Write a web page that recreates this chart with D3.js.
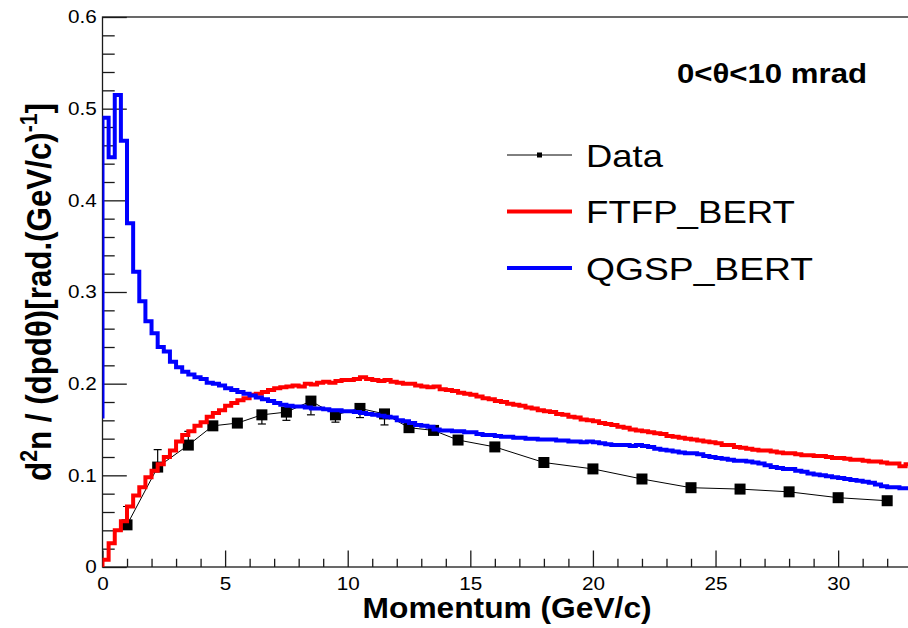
<!DOCTYPE html>
<html><head><meta charset="utf-8">
<script src="https://cdn.jsdelivr.net/npm/d3@7"></script>
<style>
body{margin:0;background:#fff;}
svg{display:block;}
text{font-family:"Liberation Sans",Arial,Helvetica,sans-serif;fill:#000;}
</style>
</head><body>
<svg id="c" width="908" height="628"></svg>
<script>
// ---------------- data ----------------
const dataP      = [1, 2.25, 3.5, 4.5, 5.5, 6.5, 7.5, 8.5, 9.5, 10.5, 11.5, 12.5, 13.5, 14.5, 16, 18, 20, 22, 24, 26, 28, 30, 32];
const dataY      = [0.046, 0.109, 0.133, 0.154, 0.157, 0.166, 0.169, 0.181, 0.166, 0.173, 0.167, 0.152, 0.149, 0.1385, 0.131, 0.114, 0.107, 0.096, 0.0865, 0.085, 0.082, 0.0756, 0.0723];
const dataErrHi  = [0.020, 0.019, 0.015, 0, 0, 0, 0, 0, 0, 0, 0, 0, 0, 0, 0, 0, 0, 0, 0, 0, 0, 0, 0];
const dataErrLo  = [0, 0, 0, 0, 0, 0.010, 0.009, 0.015, 0.008, 0.010, 0.012, 0, 0, 0, 0, 0, 0, 0, 0, 0, 0, 0, 0];

const binWidth = 0.25;   // GeV/c, histogram bins start at 0
const ftfpStart = 0.0;
const ftfpVals = [
  0.008,0.026,0.040,0.050,0.066,0.078,0.087,0.098,
  0.105,0.112,0.120,0.127,0.137,0.144,0.148,0.154,
  0.158,0.164,0.168,0.171,0.176,0.179,0.182,0.184,
  0.188,0.189,0.191,0.193,0.195,0.196,0.197,0.198,
  0.197,0.200,0.199,0.201,0.202,0.201,0.203,0.204,
  0.204,0.205,0.207,0.205,0.204,0.203,0.204,0.202,
  0.201,0.200,0.200,0.198,0.197,0.196,0.197,0.194,
  0.193,0.192,0.190,0.189,0.188,0.186,0.184,0.183,
  0.181,0.180,0.178,0.177,0.176,0.174,0.173,0.171,
  0.170,0.169,0.167,0.166,0.164,0.163,0.161,0.160,
  0.159,0.157,0.156,0.155,0.153,0.152,0.150,0.149,
  0.148,0.147,0.146,0.145,0.143,0.142,0.141,0.140,
  0.139,0.138,0.137,0.136,0.135,0.133,0.133,0.131,
  0.130,0.129,0.128,0.127,0.127,0.126,0.125,0.124,
  0.124,0.123,0.122,0.122,0.121,0.121,0.120,0.119,
  0.119,0.118,0.117,0.117,0.116,0.115,0.115,0.114,
  0.113,0.113,0.110,0.112
];
const qgspStart = 0.162;
const qgspVals = [
  0.490,0.447,0.515,0.465,0.375,0.322,0.290,0.268,
  0.255,0.240,0.235,0.224,0.218,0.213,0.210,0.207,
  0.205,0.201,0.200,0.198,0.195,0.193,0.191,0.189,
  0.187,0.185,0.183,0.181,0.179,0.177,0.176,0.175,
  0.175,0.174,0.173,0.173,0.172,0.171,0.171,0.170,
  0.170,0.169,0.168,0.167,0.166,0.165,0.164,0.163,
  0.160,0.159,0.157,0.155,0.154,0.153,0.150,0.149,
  0.149,0.148,0.148,0.147,0.147,0.145,0.144,0.144,
  0.143,0.142,0.142,0.141,0.141,0.140,0.140,0.139,
  0.139,0.139,0.138,0.138,0.137,0.137,0.136,0.137,
  0.136,0.135,0.134,0.133,0.133,0.133,0.132,0.133,
  0.132,0.131,0.129,0.128,0.127,0.126,0.125,0.124,
  0.124,0.123,0.121,0.120,0.119,0.118,0.117,0.116,
  0.116,0.115,0.114,0.113,0.111,0.109,0.108,0.107,
  0.107,0.105,0.104,0.102,0.101,0.100,0.099,0.098,
  0.097,0.096,0.095,0.094,0.093,0.092,0.090,0.088,
  0.087,0.087,0.086,0.086
];

const xTicks = [0, 5, 10, 15, 20, 25, 30];
const yTicks = [0, 0.1, 0.2, 0.3, 0.4, 0.5, 0.6];
const seriesNames = ["Data", "FTFP_BERT", "QGSP_BERT"];
const titleText = "0<θ<10 mrad";
const xTitleText = "Momentum (GeV/c)";

// ---------------- layout ----------------
const frame = {left: 102.5, right: 911.7, top: 17, bottom: 567};
const x = d3.scaleLinear().domain([0, 33]).range([frame.left, frame.right]);
const y = d3.scaleLinear().domain([0, 0.6]).range([frame.bottom, frame.top]);
const SX = 1.15; // horizontal stretch of the original picture's lettering

const svg = d3.select("#c");
const axisColor = "#1a1a1a";

// clip
svg.append("defs").append("clipPath").attr("id", "clip")
  .append("rect").attr("x", frame.left).attr("y", frame.top)
  .attr("width", frame.right - frame.left).attr("height", frame.bottom - frame.top);

// frame
svg.append("rect").attr("x", frame.left).attr("y", frame.top)
  .attr("width", frame.right - frame.left).attr("height", frame.bottom - frame.top)
  .attr("fill", "none").attr("stroke", axisColor).attr("stroke-width", 1.3);

// x axis major
const xAxisG = svg.append("g").attr("transform", `translate(0,${frame.bottom})`)
  .call(d3.axisBottom(x).tickValues(xTicks).tickSizeInner(-16.5).tickSizeOuter(0).tickPadding(10)
        .tickFormat(d3.format("d")));
// x axis minor
svg.append("g").attr("transform", `translate(0,${frame.bottom})`)
  .call(d3.axisBottom(x).tickValues(d3.range(0, 34, 1).filter(v => v % 5 !== 0))
        .tickSizeInner(-8.25).tickSizeOuter(0).tickFormat(""));
// y axis major
const yAxisG = svg.append("g").attr("transform", `translate(${frame.left},0)`)
  .call(d3.axisLeft(y).tickValues(yTicks).tickSizeInner(-24.3).tickSizeOuter(0).tickPadding(5)
        .tickFormat(d => d === 0 ? "0" : d3.format(".1f")(d)));
// y axis minor
svg.append("g").attr("transform", `translate(${frame.left},0)`)
  .call(d3.axisLeft(y).tickValues(d3.range(0, 0.6001, 0.02).filter(v => Math.abs(v * 10 - Math.round(v * 10)) > 1e-6))
        .tickSizeInner(-12.2).tickSizeOuter(0).tickFormat(""));

svg.selectAll(".domain").remove();
svg.selectAll(".tick line").attr("stroke", axisColor).attr("stroke-width", 1.3);
svg.selectAll(".tick text").attr("font-size", 18).attr("font-family", '"Liberation Sans",Arial,sans-serif')
  .attr("fill", "#111").attr("transform", `scale(${SX},1)`);

// ---------------- data (drawn first, curves on top) ----------------
const pts = dataP.map((p, i) => ({p, v: dataY[i], hi: dataErrHi[i], lo: dataErrLo[i]}));
const gData = svg.append("g").attr("clip-path", "url(#clip)");
gData.append("path").datum(pts)
  .attr("d", d3.line().x(d => x(d.p)).y(d => y(d.v)))
  .attr("fill", "none").attr("stroke", "#000").attr("stroke-width", 1);
const eb = gData.selectAll(".eb").data(pts.filter(d => d.hi > 0 || d.lo > 0)).enter().append("g");
eb.append("line").attr("x1", d => x(d.p)).attr("x2", d => x(d.p))
  .attr("y1", d => y(d.v - d.lo)).attr("y2", d => y(d.v + d.hi))
  .attr("stroke", "#000").attr("stroke-width", 1.2);
eb.filter(d => d.hi > 0).append("line").attr("x1", d => x(d.p) - 4).attr("x2", d => x(d.p) + 4)
  .attr("y1", d => y(d.v + d.hi)).attr("y2", d => y(d.v + d.hi)).attr("stroke", "#000").attr("stroke-width", 1.2);
eb.filter(d => d.lo > 0).append("line").attr("x1", d => x(d.p) - 4).attr("x2", d => x(d.p) + 4)
  .attr("y1", d => y(d.v - d.lo)).attr("y2", d => y(d.v - d.lo)).attr("stroke", "#000").attr("stroke-width", 1.2);
const MS = 11;
gData.selectAll(".mk").data(pts).enter().append("rect")
  .attr("x", d => x(d.p) - MS / 2).attr("y", d => y(d.v) - MS / 2)
  .attr("width", MS).attr("height", MS).attr("fill", "#000");

// ---------------- histograms ----------------
function histPoints(start, vals) {
  const out = [[0, start]];
  vals.forEach((v, i) => { out.push([i * binWidth, v]); out.push([(i + 1) * binWidth, v]); });
  return out;
}
const hline = d3.line().x(d => x(d[0])).y(d => y(d[1]));
const gH = svg.append("g").attr("clip-path", "url(#clip)");
gH.append("path").attr("d", hline(histPoints(ftfpStart, ftfpVals)))
  .attr("fill", "none").attr("stroke", "#ff0000").attr("stroke-width", 4).attr("stroke-linejoin", "miter");
gH.append("path").attr("d", hline(histPoints(qgspStart, qgspVals)))
  .attr("fill", "none").attr("stroke", "#0000ff").attr("stroke-width", 4).attr("stroke-linejoin", "miter");

// ---------------- legend ----------------
const leg = svg.append("g");
const legRows = [
  {name: seriesNames[0], y: 155, color: "#000", w: 1, marker: true, len: 77},
  {name: seriesNames[1], y: 211.5, color: "#ff0000", w: 4, marker: false, len: 209},
  {name: seriesNames[2], y: 268, color: "#0000ff", w: 4, marker: false, len: 227}
];
legRows.forEach(r => {
  leg.append("line").attr("x1", 507).attr("x2", 572).attr("y1", r.y).attr("y2", r.y)
    .attr("stroke", r.color).attr("stroke-width", r.w);
  if (r.marker) leg.append("rect").attr("x", 539.5 - 2.5).attr("y", r.y - 2.5).attr("width", 5).attr("height", 5).attr("fill", "#000");
  leg.append("text").attr("x", 586).attr("y", r.y + 11.5).attr("font-size", 32)
    .attr("textLength", r.len).attr("lengthAdjust", "spacingAndGlyphs").text(r.name);
});

// ---------------- titles ----------------
svg.append("text").attr("x", 677).attr("y", 83).attr("font-size", 27).attr("font-weight", "bold")
  .attr("textLength", 190).attr("lengthAdjust", "spacingAndGlyphs").text(titleText);

svg.append("text").attr("x", (frame.left + frame.right) / 2).attr("y", 618)
  .attr("text-anchor", "middle").attr("font-size", 29).attr("font-weight", "bold")
  .attr("textLength", 289).attr("lengthAdjust", "spacingAndGlyphs").text(xTitleText);

const yt = svg.append("text")
  .attr("transform", `translate(51,292) rotate(-90) scale(1,${SX})`)
  .attr("text-anchor", "middle").attr("font-size", 31).attr("font-weight", "bold")
  .attr("textLength", 378).attr("lengthAdjust", "spacingAndGlyphs");
yt.append("tspan").text("d");
yt.append("tspan").attr("font-size", 21).attr("dy", -12).text("2");
yt.append("tspan").attr("dy", 12).text("n / (dpdθ)[rad.(GeV/c)");
yt.append("tspan").attr("font-size", 21).attr("dy", -12).text("-1");
yt.append("tspan").attr("dy", 12).text("]");
</script>
</body></html>
